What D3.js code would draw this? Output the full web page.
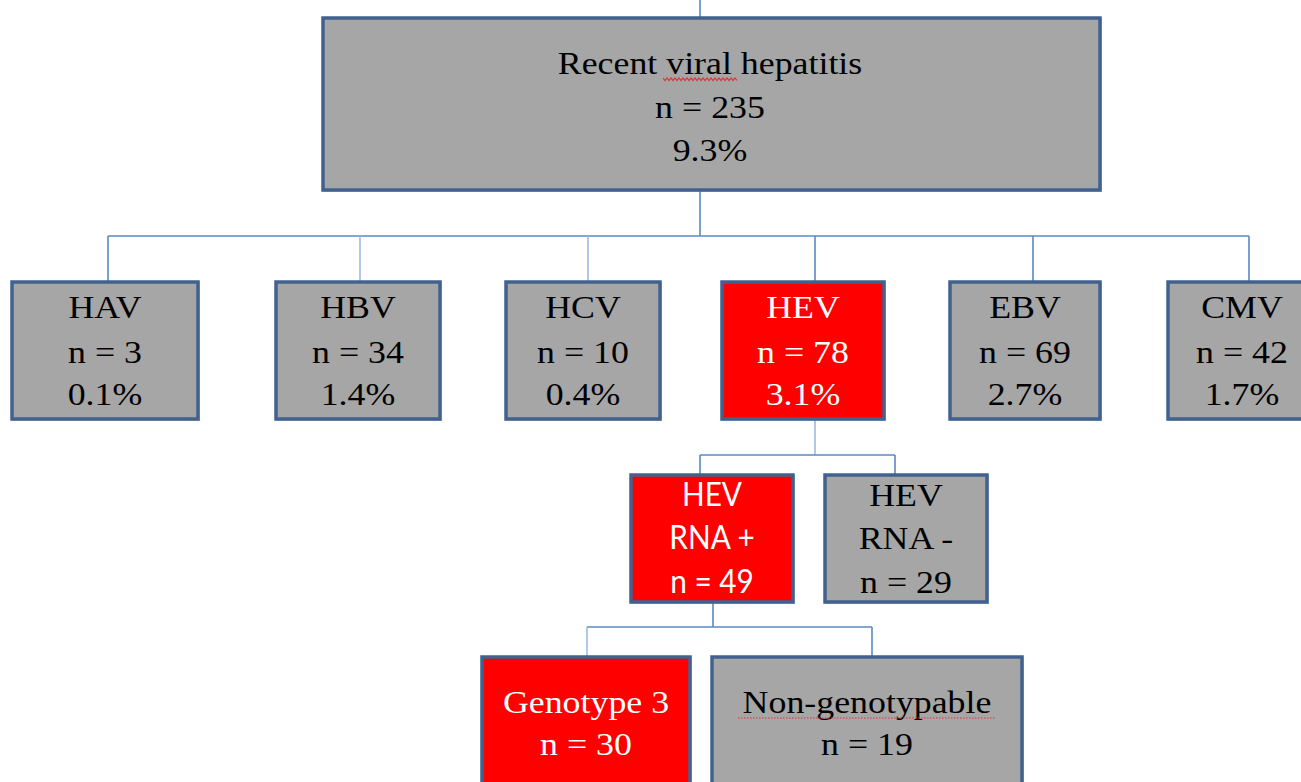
<!DOCTYPE html>
<html><head><meta charset="utf-8">
<script src="https://cdn.jsdelivr.net/npm/d3@7"></script>
<style>html,body{margin:0;padding:0;background:#fff;overflow:hidden}</style>
</head><body>
<script>
// ---- data ----
const rootLabel = "Recent viral hepatitis";
const rootN = 235;
const rootPct = "9.3%";
const virusLabels = ["HAV", "HBV", "HCV", "HEV", "EBV", "CMV"];
const virusN = [3, 34, 10, 78, 69, 42];
const virusPct = ["0.1%", "1.4%", "0.4%", "3.1%", "2.7%", "1.7%"];
const rnaLabels = [["HEV", "RNA +"], ["HEV", "RNA -"]];
const rnaN = [49, 29];
const genoLabels = ["Genotype 3", "Non-genotypable"];
const genoN = [30, 19];
const highlighted = ["HEV", "HEV RNA +", "Genotype 3"];

// ---- layout (positions only) ----
const W = 1301, H = 782;
const rootBox = {x0: 323, x1: 1100, y0: 18, y1: 190};
const virusBoxes = [[12, 198], [276, 440], [506, 660], [722, 884], [950, 1100], [1168, 1316]];
const virusStems = [108, 360, 588, 815, 1033, 1249];
const virusY = [282, 419];
const rnaBoxes = [[631, 793], [825, 987]];
const rnaStems = [700, 895];
const rnaY = [475, 602];
const genoBoxes = [[482, 690], [712, 1022]];
const genoStems = [587, 872];
const genoY = [657, 800];

const GRAY = "#a6a6a6", RED = "#ff0000", BORDER = "#41618f", LINE = "#5b88c4";
const SERIF = "'Liberation Serif','Times New Roman',serif";
const SANS = "Lato,'Open Sans',sans-serif";
const SERIF_SX = 1.12, SANS_SX = 0.93;

const svg = d3.select("body").append("svg").attr("width", W).attr("height", H)
  .style("display", "block");
svg.append("rect").attr("width", W).attr("height", H).attr("fill", "#fff");

const lines = svg.append("g").attr("fill", "none").attr("stroke", LINE).attr("stroke-width", 1.6);
function seg(pts, color) {
  lines.append("path").attr("d", d3.line()(pts)).attr("stroke", color || LINE);
}
// connectors
seg([[700, 0], [700, rootBox.y0]]);
seg([[700, rootBox.y1], [700, 236]]);
seg([[d3.min(virusStems), 236], [d3.max(virusStems), 236]]);
virusStems.forEach((x, i) => seg([[x, 236], [x, virusY[0]]], (i === 1 || i === 2) ? "#9dbbe0" : LINE));
seg([[815, virusY[1]], [815, 455]], "#9dbbe0");
seg([[rnaStems[0], 455], [rnaStems[1], 455]]);
rnaStems.forEach(x => seg([[x, 455], [x, rnaY[0]]]));
seg([[713, rnaY[1]], [713, 627]]);
seg([[genoStems[0], 627], [genoStems[1], 627]]);
genoStems.forEach((x, i) => seg([[x, 627], [x, genoY[0]]], i === 0 ? "#9dbbe0" : LINE));

// boxes
const boxG = svg.append("g");
function box(x0, x1, y0, y1, fill) {
  boxG.append("rect").attr("x", x0 + 1).attr("y", y0 + 1).attr("width", x1 - x0).attr("height", y1 - y0)
    .attr("fill", "none").attr("stroke", "#8e9db5").attr("stroke-width", 2).attr("opacity", 0.5);
  boxG.append("rect").attr("x", x0).attr("y", y0).attr("width", x1 - x0).attr("height", y1 - y0)
    .attr("fill", fill).attr("stroke", BORDER).attr("stroke-width", 3.5);
}
function texts(cx, baselines, strs, color, family) {
  const sx = family === SANS ? SANS_SX : SERIF_SX;
  strs.forEach((s, i) => {
    boxG.append("text").attr("transform", `translate(${cx},${baselines[i]}) scale(${sx},1)`)
      .attr("text-anchor", "middle")
      .attr("font-family", family || SERIF).attr("font-size", 32).attr("fill", color).text(s);
  });
}
function squiggle(x0, x1, y, dotted) {
  if (dotted) {
    boxG.append("line").attr("x1", x0).attr("x2", x1).attr("y1", y).attr("y2", y)
      .attr("stroke", "#e03030").attr("stroke-width", 1.2).attr("stroke-dasharray", "1.5,1.5");
    return;
  }
  const pts = [];
  for (let x = x0, k = 0; x <= x1; x += 2, k++) pts.push([x, y + (k % 2 ? 1.5 : -1)]);
  boxG.append("path").attr("d", d3.line()(pts)).attr("fill", "none").attr("stroke", "#e03030").attr("stroke-width", 1.2);
}

// root
box(rootBox.x0, rootBox.x1, rootBox.y0, rootBox.y1, GRAY);
const rootCx = 710;
texts(rootCx, [74, 118, 161], [rootLabel, "n = " + rootN, rootPct], "#000");
squiggle(663, 737, 79);

// viruses
virusLabels.forEach((lab, i) => {
  const [x0, x1] = virusBoxes[i];
  const hi = highlighted.includes(lab);
  box(x0, x1, virusY[0], virusY[1], hi ? RED : GRAY);
  const cx = i === 5 ? 1242 : (x0 + x1) / 2;
  texts(cx, [318, 363, 405], [lab, "n = " + virusN[i], virusPct[i]], hi ? "#fff" : "#000");
});

// RNA
rnaLabels.forEach((lab, i) => {
  const [x0, x1] = rnaBoxes[i];
  const hi = highlighted.includes(lab.join(" "));
  box(x0, x1, rnaY[0], rnaY[1], hi ? RED : GRAY);
  texts((x0 + x1) / 2, [506, 549, 593], [lab[0], lab[1], "n = " + rnaN[i]], hi ? "#fff" : "#000", hi ? SANS : SERIF);
});

// genotypes
genoLabels.forEach((lab, i) => {
  const [x0, x1] = genoBoxes[i];
  const hi = highlighted.includes(lab);
  box(x0, x1, genoY[0], genoY[1], hi ? RED : GRAY);
  texts((x0 + x1) / 2, [713, 755], [lab, "n = " + genoN[i]], hi ? "#fff" : "#000");
});
squiggle(738, 996, 718, true);
</script>
</body></html>
